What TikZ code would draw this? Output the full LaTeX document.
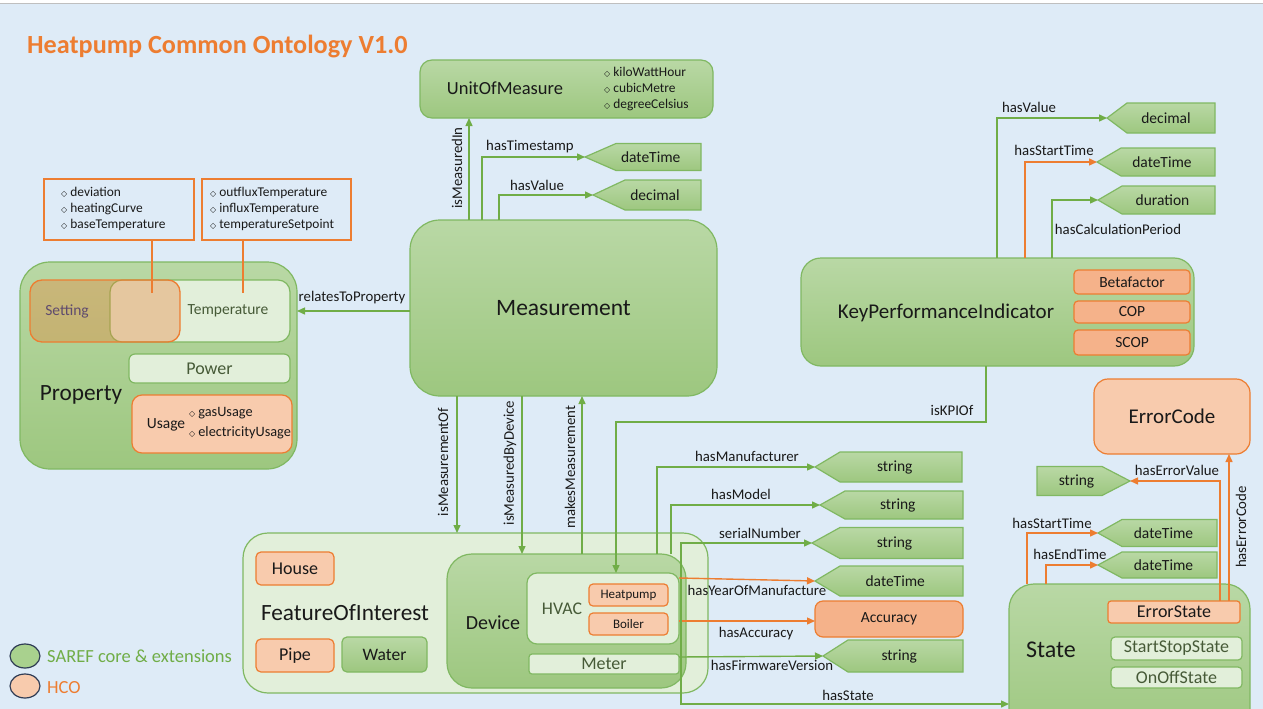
\documentclass[tikz,border=0pt]{standalone}
\usepackage{fontspec}
\setmainfont{Carlito}
\newfontfamily\symf{DejaVu Sans}
\usetikzlibrary{arrows.meta,shapes.geometric}
\definecolor{bg}{RGB}{222,235,247}
\definecolor{gtop}{RGB}{185,216,165}
\definecolor{gbot}{RGB}{157,199,127}
\definecolor{gborder}{RGB}{128,184,98}
\definecolor{lgreen}{RGB}{226,239,218}
\definecolor{lorange}{RGB}{248,203,173}
\definecolor{sorange}{RGB}{245,178,138}
\definecolor{horange}{RGB}{237,125,49}
\definecolor{gline}{RGB}{112,173,71}
\definecolor{txt}{RGB}{25,25,25}
\definecolor{dgtxt}{RGB}{70,90,55}
\definecolor{settxt}{RGB}{95,75,110}
\definecolor{navy}{RGB}{47,60,85}
\definecolor{legG}{RGB}{169,209,142}
\newcommand{\dm}{{\symf\fontsize{8}{8}\selectfont\char"25C7}\hspace{3pt}}
\newcommand{\bx}[7][]{\node[#1, minimum width={#5-#3}, minimum height={#6-#4}, inner sep=0pt, outer sep=0pt] (#2) at ({(#3+#5)/2},{(#4+#6)/2}) {#7};}
\newcommand{\dt}[7]{%
  \path[dtshape] (#2,#5) -- (#3,{#5-#6}) -- (#4,{#5-#6}) -- (#4,{#5+#6}) -- (#3,{#5+#6}) -- cycle;
  \coordinate (#1) at (#2,#5);
  \node[dttext] (#1-t) at ({((#2+#3)/2+#4)/2},#5) {#7};}
\tikzset{
  gbox/.style={draw=gborder, line width=1.2pt, top color=gtop, bottom color=gbot, rounded corners=#1pt, text=txt},
  lgbox/.style={draw=gborder, line width=1.2pt, fill=lgreen, rounded corners=#1pt},
  obox/.style={draw=horange, line width=1.2pt, fill=lorange, rounded corners=#1pt, text=txt},
  sbox/.style={draw=horange, line width=1.2pt, fill=sorange, rounded corners=#1pt, text=txt},
  dtshape/.style={draw=gborder, line width=1.2pt, top color=gtop, bottom color=gbot},
  dttext/.style={inner sep=0pt, text=txt, font=\fontsize{15.5}{18}\selectfont},
  f13/.style={font=\fontsize{13}{15}\selectfont},
  f155/.style={font=\fontsize{15.5}{18}\selectfont},
  f18/.style={font=\fontsize{18}{21}\selectfont},
  f178/.style={font=\fontsize{17.8}{21}\selectfont},
  f20/.style={font=\fontsize{20}{24}\selectfont},
  f21/.style={font=\fontsize{21}{25}\selectfont},
  f23/.style={font=\fontsize{23.3}{27}\selectfont},
  lbl/.style={inner sep=0pt, text=txt, font=\fontsize{14.8}{17}\selectfont},
  list/.style={anchor=west, align=left, inner sep=0pt, text=txt, font=\fontsize{13.4}{16}\selectfont},
  garrow/.style={draw=gline, line width=1.4pt, -{Triangle[length=8pt,width=7pt]}},
  oarrow/.style={draw=horange, line width=1.4pt, -{Triangle[length=8pt,width=7pt]}},
  oline/.style={draw=horange, line width=1.4pt},
}
\begin{document}
\begin{tikzpicture}[x=1pt,y=-1pt]
\useasboundingbox (0,0) rectangle (1263,709);
\clip (0,0) rectangle (1263,709);
\fill[bg] (0,0) rectangle (1263,709);
\fill[white] (0,0) rectangle (1263,3);
\draw[gray!50, line width=1pt] (0,3.5) -- (1263,3.5);

% title
\node[anchor=base west, inner sep=0pt, font=\bfseries\fontsize{26.2}{31}\selectfont, text=horange] (title) at (27,53) {Heatpump Common Ontology V1.0};

% attribute boxes
\bx[draw=horange, line width=1.4pt]{attrS}{44}{179}{194}{240}{}
\node[list] (attrSt) at (61,209) {\dm deviation\\\dm heatingCurve\\\dm baseTemperature};
\bx[draw=horange, line width=1.4pt]{attrT}{202}{179}{351}{240}{}
\node[list] (attrTt) at (210,209) {\dm outfluxTemperature\\\dm influxTemperature\\\dm temperatureSetpoint};

% Property
\bx[gbox=30]{Prop}{20}{262}{297}{469}{}
\node[f23, text=txt] (Propt) at (81,395) {Property};
\bx[lgbox=12]{Temp}{110}{280}{290}{342}{}
\node[f155, text=dgtxt] (Tempt) at (228,311) {Temperature};
\bx[draw=horange, line width=1.3pt, fill=horange, fill opacity=0.35, text opacity=1, rounded corners=12pt]{Set}{30}{280}{180}{342}{}
\node[f155, text=settxt] (Sett) at (67,311) {Setting};
\draw[oline] (attrS.south -| 152,0) -- (152,293);
\draw[oline] (attrT.south -| 243,0) -- (243,293);
\bx[lgbox=6, f18, text=dgtxt]{Pow}{129}{354}{290}{383}{Power}
\bx[obox=10]{Usage}{132}{395}{292}{453}{}
\node[f155, text=txt] (Uset) at (166,425) {Usage};
\node[anchor=west, align=left, inner sep=0pt, text=txt, font=\fontsize{14.3}{20}\selectfont] (Usel) at (189,423) {\dm gasUsage\\\dm electricityUsage};

% Measurement
\bx[gbox=30, font=\fontsize{23.5}{27}\selectfont]{Meas}{410}{220}{717}{396}{Measurement}

% UnitOfMeasure
\bx[gbox=12]{UoM}{420}{60}{713}{118}{}
\node[font=\fontsize{18.5}{22}\selectfont, text=txt] (UoMt) at (505,88) {UnitOfMeasure};
\node[list] (UoMl) at (604,89) {\dm kiloWattHour\\\dm cubicMetre\\\dm degreeCelsius};
\dt{dtMT}{585}{616}{701}{157}{13.5}{dateTime}
\dt{dtMV}{593}{625}{701}{195}{15}{decimal}

% KPI
\bx[gbox=20]{KPI}{801}{258}{1194}{366}{}
\node[f21, text=txt] (KPIt) at (946,313) {KeyPerformanceIndicator};
\bx[sbox=4, f155]{Beta}{1074}{270}{1190}{294}{Betafactor}
\bx[sbox=4, f155]{COP}{1074}{301}{1190}{323}{COP}
\bx[sbox=4, f155]{SCOP}{1074}{330}{1190}{355}{SCOP}
\dt{dtKV}{1107}{1127}{1215}{118}{15}{decimal}
\dt{dtKS}{1097}{1121}{1215}{162}{14}{dateTime}
\dt{dtKD}{1098}{1122}{1215}{200}{14}{duration}

% ErrorCode
\bx[obox=14, f21]{EC}{1094}{379}{1250}{454}{ErrorCode}

% State
\bx[gbox=25]{State}{1009}{584}{1250}{740}{}
\node[font=\fontsize{24}{28}\selectfont, text=txt] (Statet) at (1051,650) {State};
\bx[obox=3, font=\fontsize{18}{21}\selectfont]{ES}{1108}{601}{1240}{623}{ErrorState}
\bx[lgbox=4, font=\fontsize{18}{21}\selectfont, text=dgtxt]{SSS}{1111}{637}{1242}{660}{StartStopState}
\bx[lgbox=4, font=\fontsize{18}{21}\selectfont, text=dgtxt]{OOS}{1111}{667}{1242}{688}{OnOffState}
\dt{dtEV}{1130}{1102}{1037}{481}{14.5}{string}
\dt{dtS1}{1098}{1122}{1217}{533}{13.5}{dateTime}
\dt{dtS2}{1098}{1122}{1217}{565}{13}{dateTime}

% FeatureOfInterest
\bx[lgbox=25]{FoI}{243}{533}{708}{693}{}
\node[f23, text=txt] (FoIt) at (345,613) {FeatureOfInterest};
\bx[obox=5, f18]{House}{256}{552}{334}{585}{House}
\bx[obox=5, f18]{Pipe}{256}{639}{334}{672}{Pipe}
\bx[gbox=5, font=\fontsize{17.5}{21}\selectfont]{Water}{342}{637}{427}{672}{Water}
\bx[gbox=25]{Dev}{447}{554}{686}{688}{}
\node[f20, text=txt] (Devt) at (493,623) {Device};
\bx[lgbox=10]{HVAC}{527}{573}{679}{644}{}
\node[f178, text=dgtxt] (HVACt) at (562,609) {HVAC};
\bx[obox=4, f13]{HP}{589}{584}{668}{606}{Heatpump}
\bx[obox=4, f13]{Boiler}{589}{613}{668}{635}{Boiler}
\bx[lgbox=3, f18, text=dgtxt]{Meter}{529}{654}{679}{674}{Meter}
\bx[sbox=8, f155]{Acc}{815}{601}{963}{637}{Accuracy}
\dt{dtDM}{815}{840}{962}{467}{15}{string}
\dt{dtDMo}{820}{845}{963}{505}{14}{string}
\dt{dtSN}{812}{840}{963}{543}{15.5}{string}
\dt{dtYM}{815}{840}{963}{581}{15}{dateTime}
\dt{dtFW}{823}{848}{963}{656}{16}{string}

% legend
\node[ellipse, draw=navy, line width=1.2pt, fill=legG, minimum width=30pt, minimum height=24pt, inner sep=0pt] (legS) at (25,656) {};
\node[ellipse, draw=navy, line width=1.2pt, fill=lorange, minimum width=30pt, minimum height=24pt, inner sep=0pt] (legH) at (25,686) {};
\node[anchor=west, font=\fontsize{18.5}{22}\selectfont, text=gline, inner sep=0pt] (legSt) at (47,656) {SAREF core \& extensions};
\node[anchor=west, font=\fontsize{18.5}{22}\selectfont, text=horange, inner sep=0pt] (legHt) at (47,688) {HCO};

% connectors: Measurement
\draw[garrow] (Meas.west |- 0,311) -- (Prop.east |- 0,311);
\node[lbl] (lRel) at (352,298) {relatesToProperty};
\draw[garrow] (Meas.north -| 469,0) -- (UoM.south -| 469,0);
\node[lbl, rotate=90] (lMI) at (457,168) {isMeasuredIn};
\draw[garrow] (Meas.north -| 482,0) |- (dtMT);
\node[lbl] (lTS) at (530,147) {hasTimestamp};
\draw[garrow] (Meas.north -| 499,0) |- (dtMV);
\node[lbl] (lMV) at (537,185) {hasValue};
\draw[garrow] (Meas.south -| 457,0) -- (FoI.north -| 457,0);
\node[lbl, rotate=90] (lMO) at (443,462) {isMeasurementOf};
\draw[garrow] (Meas.south -| 522,0) -- (Dev.north -| 522,0);
\node[lbl, rotate=90] (lMB) at (510,463) {isMeasuredByDevice};
\draw[garrow] (Dev.north -| 582,0) -- (Meas.south -| 582,0);
\node[lbl, rotate=90] (lMM) at (570,467) {makesMeasurement};

% KPI connectors
\draw[garrow] (KPI.north -| 997,0) |- (dtKV);
\node[lbl] (lKV) at (1029,107) {hasValue};
\draw[oarrow] (KPI.north -| 1025,0) |- (dtKS);
\node[lbl] (lKS) at (1054,150) {hasStartTime};
\draw[garrow] (KPI.north -| 1052,0) |- (dtKD);
\node[lbl] (lKD) at (1118,229) {hasCalculationPeriod};
\draw[garrow] (KPI.south -| 986,0) -- (986,422) -| (HVAC.north -| 616,0);
\node[lbl] (lKO) at (952,410) {isKPIOf};

% Device connectors
\draw[garrow] (Dev.north -| 657,0) |- (dtDM);
\node[lbl] (lDM) at (747,456) {hasManufacturer};
\draw[garrow] (Dev.north -| 671,0) |- (dtDMo);
\node[lbl] (lDMo) at (741,494) {hasModel};
\coordinate (sn) at (681,600);
\draw[garrow] (sn) |- (dtSN);
\node[lbl] (lSN) at (760,533) {serialNumber};
\draw[oarrow] (HVAC.east |- 0,578) -- (dtYM);
\node[lbl] (lYM) at (757,590) {hasYearOfManufacture};
\draw[oarrow] (HVAC.east |- 0,621) -- (Acc.west |- 0,621);
\node[lbl] (lAc) at (756,634) {hasAccuracy};
\draw[garrow] (Meter.east |- 0,657) -- (dtFW);
\node[lbl] (lFW) at (772,665) {hasFirmwareVersion};
\draw[garrow] (sn) -- (681,704) -- (State.west |- 0,704);
\node[lbl] (lHS) at (848,695) {hasState};

% State connectors
\draw[oarrow] (ES.north -| 1229,0) -- (EC.south -| 1229,0);
\node[lbl, rotate=90] (lEC) at (1241,527) {hasErrorCode};
\draw[oarrow] (ES.north -| 1220,0) |- (dtEV);
\node[lbl] (lEV) at (1177,470) {hasErrorValue};
\draw[oarrow] (State.north -| 1027,0) |- (dtS1);
\node[lbl] (lS1) at (1052,523) {hasStartTime};
\draw[oarrow] (State.north -| 1046,0) |- (dtS2);
\node[lbl] (lS2) at (1070,554) {hasEndTime};
\end{tikzpicture}
\end{document}
